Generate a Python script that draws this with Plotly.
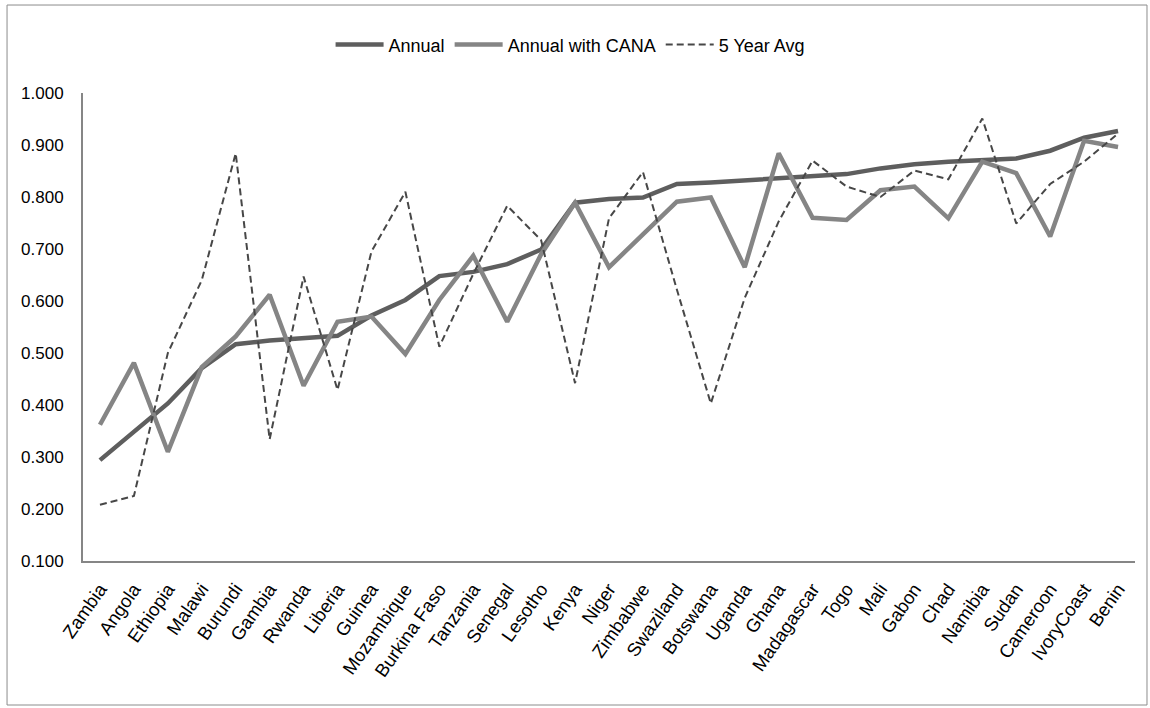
import plotly.graph_objects as go

countries = [
    "Zambia", "Angola", "Ethiopia", "Malawi", "Burundi", "Gambia", "Rwanda",
    "Liberia", "Guinea", "Mozambique", "Burkina Faso", "Tanzania", "Senegal",
    "Lesotho", "Kenya", "Niger", "Zimbabwe", "Swaziland", "Botswana", "Uganda",
    "Ghana", "Madagascar", "Togo", "Mali", "Gabon", "Chad", "Namibia", "Sudan",
    "Cameroon", "IvoryCoast", "Benin",
]

annual = [
    0.294, 0.349, 0.403, 0.471, 0.517, 0.524, 0.529, 0.533, 0.572, 0.602,
    0.648, 0.656, 0.671, 0.699, 0.789, 0.796, 0.799, 0.825, 0.828, 0.832,
    0.835, 0.839, 0.844, 0.855, 0.863, 0.868, 0.871, 0.874, 0.889, 0.914,
    0.927,
]

annual_cana = [
    0.362, 0.481, 0.310, 0.473, 0.532, 0.612, 0.437, 0.560, 0.570, 0.498,
    0.602, 0.687, 0.560, 0.690, 0.789, 0.665, 0.728, 0.791, 0.799, 0.665,
    0.884, 0.760, 0.756, 0.813, 0.820, 0.759, 0.868, 0.846, 0.724, 0.908,
    0.896,
]

five_year_avg = [
    0.208, 0.225, 0.500, 0.640, 0.884, 0.334, 0.647, 0.429, 0.695, 0.810,
    0.512, 0.652, 0.783, 0.717, 0.442, 0.759, 0.848, 0.622, 0.403, 0.606,
    0.753, 0.870, 0.820, 0.800, 0.851, 0.834, 0.951, 0.749, 0.825, 0.868,
    0.922,
]

y_ticks = [0.1, 0.2, 0.3, 0.4, 0.5, 0.6, 0.7, 0.8, 0.9, 1.0]

FONT = "Liberation Sans Narrow, Arial Narrow, Liberation Sans, sans-serif"

fig = go.Figure()
fig.add_trace(go.Scatter(
    x=countries, y=annual, name="Annual", mode="lines",
    line=dict(color="#5e5e5e", width=4.5),
))
fig.add_trace(go.Scatter(
    x=countries, y=annual_cana, name="Annual with CANA", mode="lines",
    line=dict(color="#858585", width=4.5),
))
fig.add_trace(go.Scatter(
    x=countries, y=five_year_avg, name="5 Year Avg", mode="lines",
    line=dict(color="#474747", width=2, dash="7px,4px"),
))

# chart-area frame
fig.add_shape(
    type="rect", xref="paper", yref="paper",
    x0=-0.0722, x1=1.0114, y0=-0.3077, y1=1.188,
    line=dict(color="#8c8c8c", width=1), fillcolor="rgba(0,0,0,0)",
    layer="below",
)

fig.update_layout(
    width=1150, height=708,
    margin=dict(l=83, r=15, t=93, b=147),
    paper_bgcolor="white", plot_bgcolor="white",
    font=dict(family=FONT, size=17, color="#000000"),
    showlegend=True,
    legend=dict(
        orientation="h", x=0.463, y=1.103, xanchor="center", yanchor="middle",
        font=dict(family=FONT, size=18, color="#000000"),
        bgcolor="rgba(0,0,0,0)", itemwidth=48, tracegroupgap=0,
    ),
    xaxis=dict(
        type="category", tickangle=-55, showgrid=False,
        showline=True, linecolor="#868686", linewidth=2,
        ticks="", ticklabelstandoff=8,
        tickfont=dict(family=FONT, size=18.5),
        range=[-0.5, len(countries) - 0.5],
    ),
    yaxis=dict(
        range=[0.1, 1.0], tickvals=y_ticks, tickformat=".3f",
        showgrid=False, zeroline=False,
        showline=True, linecolor="#868686", linewidth=2,
        ticks="", ticklabelstandoff=14,
        tickfont=dict(family=FONT, size=17),
    ),
)

fig.write_html("out.html")
